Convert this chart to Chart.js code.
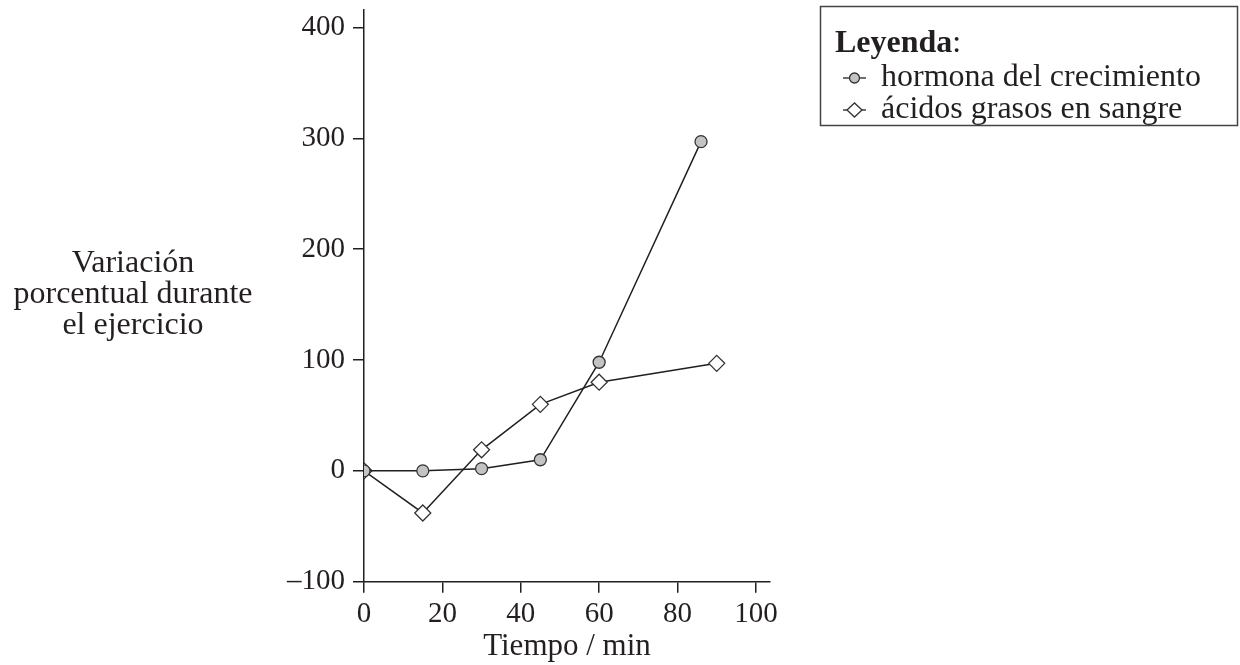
<!DOCTYPE html>
<html>
<head>
<meta charset="utf-8">
<script src="https://cdn.jsdelivr.net/npm/chart.js@4/dist/chart.umd.min.js"></script>
<style>
  html, body { margin: 0; padding: 0; background: #fff; }
  #wrap { width: 1240px; height: 665px; }
</style>
</head>
<body>
<div id="wrap"><canvas id="chart" width="1240" height="665"></canvas></div>
<script>
// Data
const hormoneTimes = [0, 15, 30, 45, 60, 86];
const hormoneValues = [0, 0, 2, 10, 98, 297];
const fattyTimes = [0, 15, 30, 45, 60, 90];
const fattyValues = [0, -38, 19, 60, 80, 97];

const xTicks = [0, 20, 40, 60, 80, 100];
const yTicks = [-100, 0, 100, 200, 300, 400];

const seriesNames = ['hormona del crecimiento', 'ácidos grasos en sangre'];
const yTitleLines = ['Variación', 'porcentual durante', 'el ejercicio'];
const xTitle = 'Tiempo / min';

const ink = '#231f20';
const serif = '"Liberation Serif", "Times New Roman", serif';

function toPoints(xs, ys) {
    return xs.map((x, i) => ({ x: x, y: ys[i] }));
}

// Draws the unrotated y title and the boxed legend
const extras = {
    id: 'extras',
    afterDraw(chart) {
        const ctx = chart.ctx;
        ctx.save();
        ctx.fillStyle = ink;
        ctx.textBaseline = 'alphabetic';

        // y title, three centred lines
        ctx.font = '32px ' + serif;
        ctx.textAlign = 'center';
        const baselines = [272, 303, 334];
        yTitleLines.forEach((t, i) => ctx.fillText(t, 133, baselines[i]));

        // legend box
        ctx.strokeStyle = '#444';
        ctx.lineWidth = 1.5;
        ctx.strokeRect(820.5, 6.5, 417, 119);

        ctx.textAlign = 'left';
        ctx.font = 'bold 32px ' + serif;
        ctx.fillText('Leyenda', 835, 52);
        const w = ctx.measureText('Leyenda').width;
        ctx.font = '32px ' + serif;
        ctx.fillText(':', 835 + w, 52);

        // legend rows
        const rows = [
            { y: 78, base: 86, ds: chart.data.datasets[0] },
            { y: 110, base: 118, ds: chart.data.datasets[1] }
        ];
        rows.forEach((r, i) => {
            ctx.strokeStyle = ink;
            ctx.lineWidth = 1.3;
            ctx.beginPath();
            ctx.moveTo(843, r.y);
            ctx.lineTo(866, r.y);
            ctx.stroke();
            ctx.fillStyle = r.ds.pointBackgroundColor;
            ctx.strokeStyle = r.ds.pointBorderColor;
            ctx.beginPath();
            if (r.ds.pointStyle === 'circle') {
                ctx.arc(854.5, r.y, 5, 0, Math.PI * 2);
            } else {
                ctx.moveTo(847, r.y);
                ctx.lineTo(854.5, r.y - 7);
                ctx.lineTo(862, r.y);
                ctx.lineTo(854.5, r.y + 7);
                ctx.closePath();
            }
            ctx.fill();
            ctx.stroke();
            ctx.fillStyle = ink;
            ctx.fillText(seriesNames[i], 881, r.base);
        });
        ctx.restore();
    }
};

new Chart(document.getElementById('chart'), {
    type: 'scatter',
    data: {
        datasets: [
            {
                label: seriesNames[0],
                data: toPoints(hormoneTimes, hormoneValues),
                showLine: true,
                borderColor: ink,
                borderWidth: 1.5,
                pointStyle: 'circle',
                pointRadius: 6,
                pointBorderWidth: 1.3,
                pointBackgroundColor: '#c2c3c5',
                pointBorderColor: '#333',
                tension: 0
            },
            {
                label: seriesNames[1],
                data: toPoints(fattyTimes, fattyValues),
                showLine: true,
                borderColor: ink,
                borderWidth: 1.5,
                pointStyle: 'rectRot',
                pointRadius: 8,
                pointBorderWidth: 1.3,
                pointBackgroundColor: '#ffffff',
                pointBorderColor: '#333',
                tension: 0
            }
        ]
    },
    options: {
        responsive: false,
        animation: false,
        events: [],
        layout: { padding: { left: 0, right: 470, top: 5, bottom: 0 } },
        plugins: {
            legend: { display: false },
            tooltip: { enabled: false }
        },
        scales: {
            x: {
                type: 'linear',
                min: 0,
                max: 103.6,
                afterBuildTicks: s => { s.ticks = xTicks.map(v => ({ value: v })); },
                afterFit: s => {
                    s.height = 83.3;
                    s.paddingLeft = 0;
                    s.paddingRight = 0;
                },
                grid: {
                    drawOnChartArea: false,
                    drawTicks: true,
                    tickLength: 11,
                    color: ink,
                    lineWidth: 1.5
                },
                border: { display: true, color: ink, width: 1.5 },
                ticks: {
                    color: ink,
                    padding: 4,
                    maxRotation: 0,
                    font: { family: serif, size: 29 },
                    callback: v => String(v)
                },
                title: {
                    display: true,
                    text: xTitle,
                    color: ink,
                    padding: 0,
                    font: { family: serif, size: 31, lineHeight: 1.2 }
                }
            },
            y: {
                type: 'linear',
                min: -100,
                max: 416.4,
                afterBuildTicks: s => { s.ticks = yTicks.map(v => ({ value: v })); },
                afterFit: s => {
                    s.width = 364;
                    s.paddingTop = 0;
                    s.paddingBottom = 0;
                },
                grid: {
                    drawOnChartArea: false,
                    drawTicks: true,
                    tickLength: 11,
                    color: ink,
                    lineWidth: 1.5
                },
                border: { display: true, color: ink, width: 1.5 },
                ticks: {
                    color: ink,
                    padding: 8,
                    font: { family: serif, size: 29 },
                    callback: v => (v < 0 ? '\u2013' + Math.abs(v) : String(v))
                }
            }
        }
    },
    plugins: [extras]
});
</script>
</body>
</html>
